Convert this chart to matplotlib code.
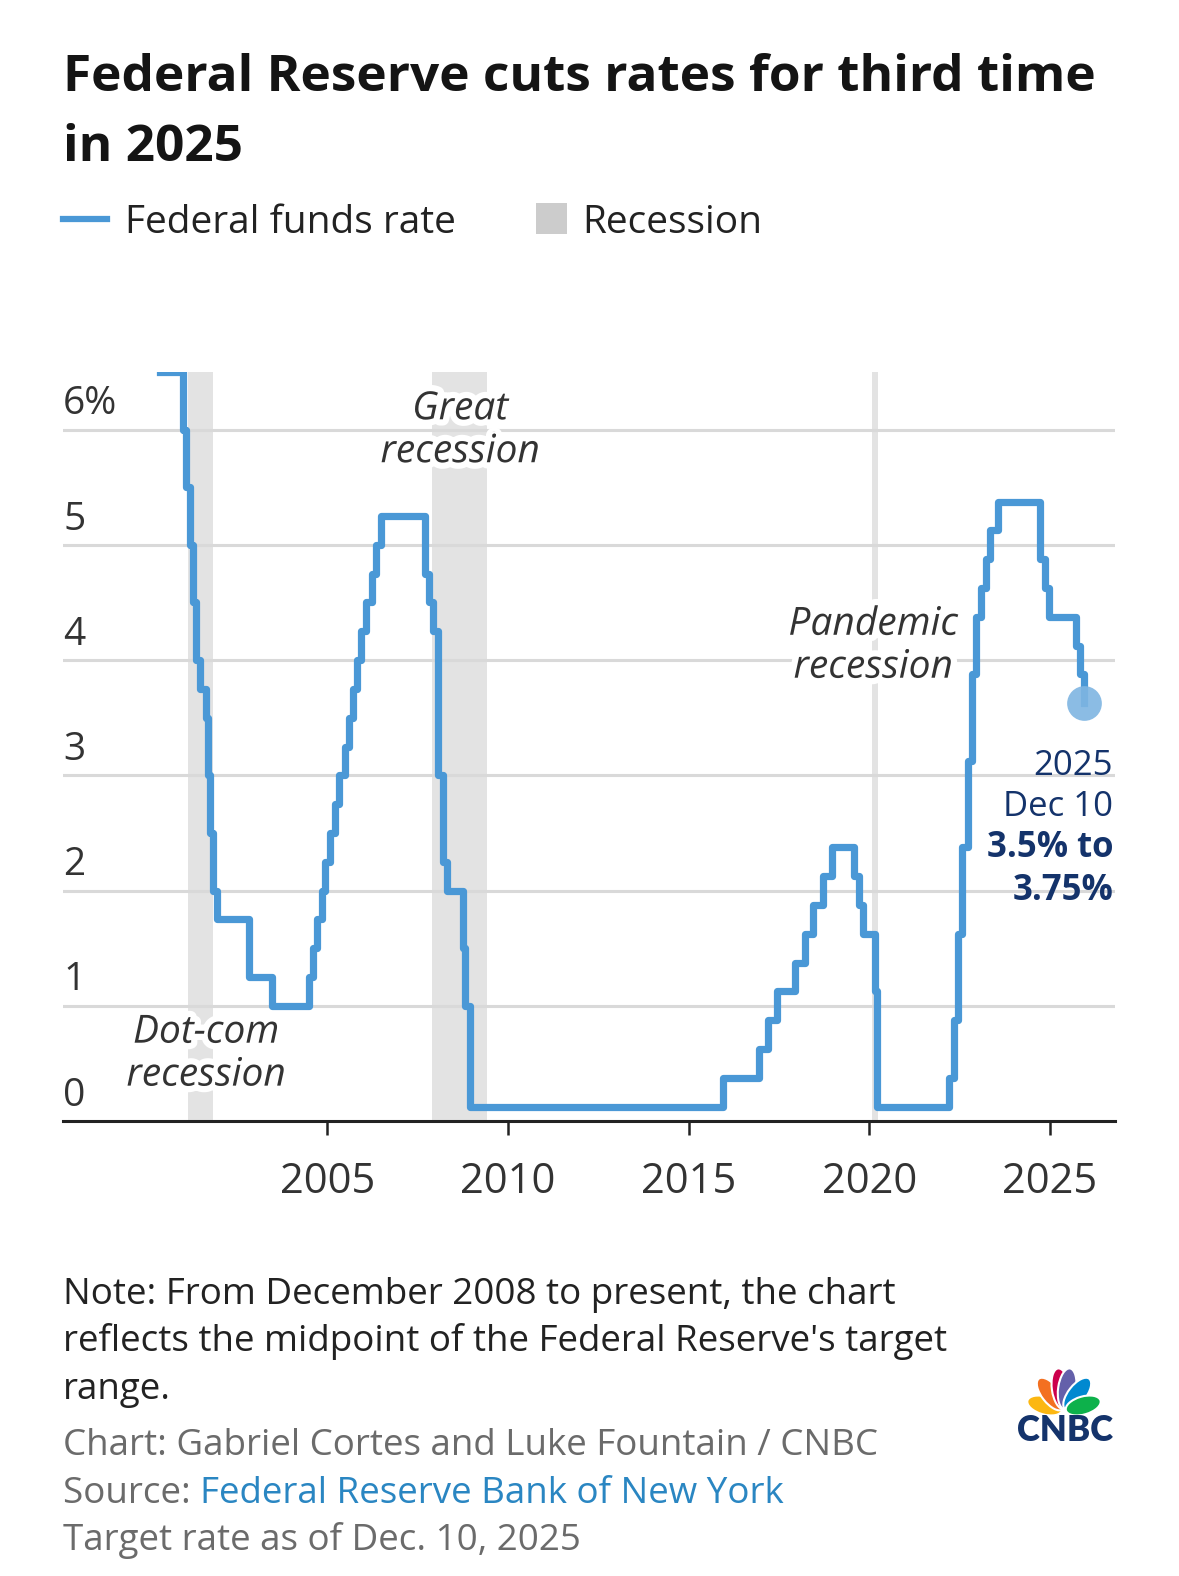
import numpy as np
import pandas as pd
import matplotlib.pyplot as plt
import matplotlib.patheffects as pe
from matplotlib.patches import Ellipse, Rectangle
from matplotlib.lines import Line2D

plt.rcParams['font.family'] = ['Open Sans', 'DejaVu Sans']

# Federal funds target rate (midpoint of the range from Dec 2008), by change date
change_dates = ['2000-05-16', '2001-01-03', '2001-01-31', '2001-03-20', '2001-04-18',
                '2001-05-15', '2001-06-27', '2001-08-21', '2001-09-17', '2001-10-02',
                '2001-11-06', '2001-12-11', '2002-11-06', '2003-06-25', '2004-06-30',
                '2004-08-10', '2004-09-21', '2004-11-10', '2004-12-14', '2005-02-02',
                '2005-03-22', '2005-05-03', '2005-06-30', '2005-08-09', '2005-09-20',
                '2005-11-01', '2005-12-13', '2006-01-31', '2006-03-28', '2006-05-10',
                '2006-06-29', '2007-09-18', '2007-10-31', '2007-12-11', '2008-01-22',
                '2008-01-30', '2008-03-18', '2008-04-30', '2008-10-08', '2008-10-29',
                '2008-12-16', '2015-12-16', '2016-12-14', '2017-03-15', '2017-06-14',
                '2017-12-13', '2018-03-21', '2018-06-13', '2018-09-26', '2018-12-19',
                '2019-07-31', '2019-09-18', '2019-10-30', '2020-03-03', '2020-03-15',
                '2022-03-16', '2022-05-04', '2022-06-15', '2022-07-27', '2022-09-21',
                '2022-11-02', '2022-12-14', '2023-02-01', '2023-03-22', '2023-05-03',
                '2023-07-26', '2024-09-18', '2024-11-07', '2024-12-18', '2025-09-17',
                '2025-10-29', '2025-12-10']
rates = [6.5, 6.0, 5.5, 5.0, 4.5,
         4.0, 3.75, 3.5, 3.0, 2.5,
         2.0, 1.75, 1.25, 1.0, 1.25,
         1.5, 1.75, 2.0, 2.25, 2.5,
         2.75, 3.0, 3.25, 3.5, 3.75,
         4.0, 4.25, 4.5, 4.75, 5.0,
         5.25, 4.75, 4.5, 4.25, 3.5,
         3.0, 2.25, 2.0, 1.5, 1.0,
         0.125, 0.375, 0.625, 0.875, 1.125,
         1.375, 1.625, 1.875, 2.125, 2.375,
         2.125, 1.875, 1.625, 1.125, 0.125,
         0.375, 0.875, 1.625, 2.375, 3.125,
         3.875, 4.375, 4.625, 4.875, 5.125,
         5.375, 4.875, 4.625, 4.375, 4.125,
         3.875, 3.625]

recession_starts = ['2001-03-01', '2007-12-01', '2020-02-01']
recession_ends = ['2001-11-01', '2009-06-01', '2020-04-01']

year_ticks = [2005, 2010, 2015, 2020, 2025]
pct_ticks = [0, 1, 2, 3, 4, 5, 6]
pct_labels = ['0', '1', '2', '3', '4', '5', '6%']


def to_year(dates):
    d = pd.to_datetime(pd.Series(dates))
    return (d.dt.year + (d.dt.dayofyear - 1) / 365.25).to_numpy()


x = to_year(change_dates)
rs = to_year(recession_starts)
re_ = to_year(recession_ends)

BLUE = '#4a98d6'
NAVY = '#14336b'
W, H = 1179, 1576

fig = plt.figure(figsize=(W / 100, H / 100), dpi=100)


def fx(px):
    return px / W


def fy(py):
    return 1 - py / H


ax = fig.add_axes([fx(63), fy(1121), fx(1115) - fx(63), fy(372) - fy(1121)])
ax.set_xlim(1997.69, 2026.8)
ax.set_ylim(0, 6.5)

# recessions
for a, b in zip(rs, re_):
    ax.axvspan(a, b, color='#e3e3e3', lw=0, zorder=0)

# gridlines
for v in pct_ticks[1:]:
    ax.axhline(v, color='#d9d9d9', lw=2.2, zorder=1)

halo = [pe.withStroke(linewidth=9, foreground='white')]

# y labels above gridlines
for v, lab in zip(pct_ticks, pct_labels):
    ax.annotate(lab, xy=(0, v), xycoords=ax.get_yaxis_transform(),
                xytext=(0, 11), textcoords='offset points',
                ha='left', va='baseline', fontsize=28, color='#333333', zorder=2)

# recession labels
lab_kw = dict(ha='center', va='center', fontsize=28, style='italic', color='#333333',
              linespacing=1.17, path_effects=halo, zorder=3)
ax.text(2008.68, 5.99, 'Great\nrecession', **lab_kw)
ax.text(2020.11, 4.12, 'Pandemic\nrecession', **lab_kw)
ax.text(2001.65, 0.58, 'Dot-com\nrecession', **lab_kw)

# rate line
ax.step(x, rates, where='post', color=BLUE, lw=5.2, zorder=4)
ax.plot(x[-1], rates[-1], 'o', ms=25, color='#7fb5e2', alpha=0.9, mec='none', zorder=5)

# end label
ax.text(2026.75, 2.90, '2025\nDec 10', ha='right', va='center', fontsize=25,
        color=NAVY, linespacing=1.27, zorder=6)
ax.text(2026.75, 2.18, '3.5% to\n3.75%', ha='right', va='center', fontsize=25,
        color=NAVY, fontweight='bold', linespacing=1.27, zorder=6)

for s in ['top', 'right', 'left']:
    ax.spines[s].set_visible(False)
ax.spines['bottom'].set_linewidth(2.2)
ax.spines['bottom'].set_color('#222222')
ax.set_yticks([])
ax.set_xticks(year_ticks)
ax.set_xticklabels([str(t) for t in year_ticks])
ax.tick_params(axis='x', length=10, width=1.8, color='#222222', pad=19,
               labelsize=30, labelcolor='#333333')

# title and legend
fig.text(fx(63), fy(91), 'Federal Reserve cuts rates for third time', fontsize=37,
         fontweight='bold', color='#141414', va='baseline')
fig.text(fx(63), fy(161), 'in 2025', fontsize=37, fontweight='bold', color='#141414',
         va='baseline')
fig.add_artist(Line2D([fx(63), fx(107)], [fy(219), fy(219)], color=BLUE, lw=4.5))
fig.text(fx(125), fy(233), 'Federal funds rate', fontsize=28, color='#222222', va='baseline')
fig.add_artist(Rectangle((fx(536), fy(234)), fx(31), fy(203) - fy(234),
                         transform=fig.transFigure, color='#cccccc', lw=0))
fig.text(fx(582), fy(233), 'Recession', fontsize=28, color='#222222', va='baseline')

# footer
FS = 26.5
fig.text(fx(63), fy(1304), 'Note: From December 2008 to present, the chart', fontsize=FS,
         color='#222222', va='baseline')
fig.text(fx(63), fy(1351), "reflects the midpoint of the Federal Reserve's target", fontsize=FS,
         color='#222222', va='baseline')
fig.text(fx(63), fy(1399), 'range.', fontsize=FS, color='#222222', va='baseline')
fig.text(fx(63), fy(1455), 'Chart: Gabriel Cortes and Luke Fountain / CNBC', fontsize=FS,
         color='#6b6b6b', va='baseline')
src = fig.text(fx(63), fy(1503), 'Source: ', fontsize=FS, color='#6b6b6b', va='baseline')
fig.canvas.draw()
bb = src.get_window_extent()
fig.text(bb.x1 / W, fy(1503), 'Federal Reserve Bank of New York', fontsize=FS,
         color='#2a86c2', va='baseline')
fig.text(fx(63), fy(1550), 'Target rate as of Dec. 10, 2025', fontsize=FS,
         color='#6b6b6b', va='baseline')

# CNBC logo
lax = fig.add_axes([fx(1010), fy(1445), fx(105), fy(1355) - fy(1445)])
lax.set_xlim(0, 105)
lax.set_ylim(0, 90)
lax.axis('off')
base = (54, 34)
feathers = [(164, '#fcb711', 36), (128, '#f37021', 39), (98, '#cc004c', 41),
            (82, '#6460aa', 41), (52, '#0089d0', 39), (16, '#0db14b', 36)]
for ang, col, ln in feathers:
    t = np.deg2rad(ang)
    cx = base[0] + np.cos(t) * (ln * 0.5 + 2)
    cy = base[1] + np.sin(t) * (ln * 0.5 + 2)
    lax.add_patch(Ellipse((cx, cy), ln, 18, angle=ang, color=col, ec='white', lw=1.5))
lax.text(55, 4, 'CNBC', ha='center', va='baseline', fontsize=25, fontweight='heavy',
         family='Lato', color=NAVY)

fig.savefig('out.png', dpi=100, facecolor='white')
